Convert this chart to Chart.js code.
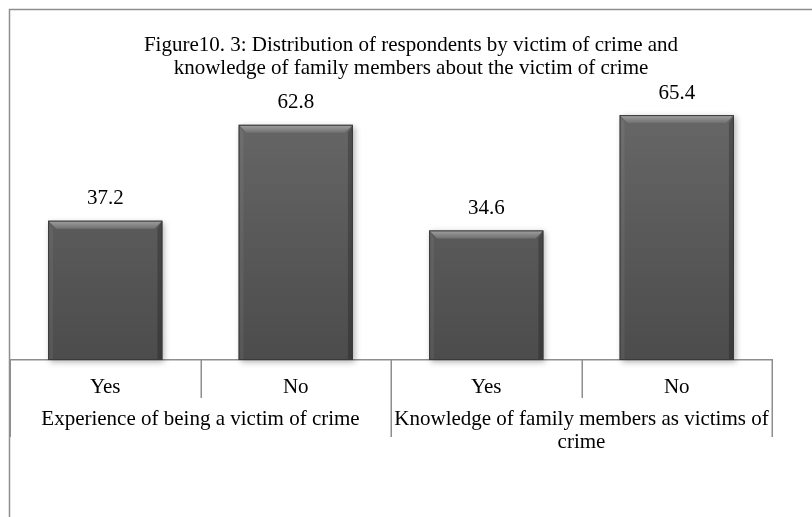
<!DOCTYPE html>
<html>
<head>
<meta charset="utf-8">
<script src="https://cdn.jsdelivr.net/npm/chart.js@4/dist/chart.umd.min.js"></script>
<style>
    html, body { margin: 0; padding: 0; background: #fff; }
    #wrap { width: 812px; height: 517px; position: relative; }
</style>
</head>
<body>
<div id="wrap"><canvas id="chart"></canvas></div>
<script>
const answers = ['Yes', 'No', 'Yes', 'No'];
const groups = [
    'Experience of being a victim of crime',
    ['Knowledge of family members as victims of', 'crime']
];
const percentages = [37.2, 62.8, 34.6, 65.4];
const titleLines = [
    'Figure10. 3: Distribution of respondents by victim of crime and',
    'knowledge of family members about the victim of crime'
];

const serif = '"Liberation Serif", "Times New Roman", serif';
const lineGray = '#8e8e8e';

const frame = {
    id: 'frame',
    beforeDraw(chart) {
        const ctx = chart.ctx;
        ctx.save();
        ctx.strokeStyle = lineGray;
        ctx.lineWidth = 1.5;
        ctx.strokeRect(9.5, 9.5, 900, 600);
        ctx.restore();
    }
};

// separators of the category table under the baseline
const tableLines = {
    id: 'tableLines',
    afterDraw(chart) {
        const x = chart.scales.x;
        const x2 = chart.scales.x2;
        const ctx = chart.ctx;
        const top = chart.chartArea.bottom;
        ctx.save();
        ctx.strokeStyle = lineGray;
        ctx.lineWidth = 1.5;
        for (let i = 0; i <= answers.length; i++) {
            const px = Math.round(x.getPixelForValue(i - 0.5)) + 0.25;
            const end = i % 2 === 0 ? x2.top + 39 : x.bottom;
            ctx.beginPath();
            ctx.moveTo(px, top);
            ctx.lineTo(px, end);
            ctx.stroke();
        }
        ctx.restore();
    }
};

const barShadow = {
    id: 'barShadow',
    beforeDatasetsDraw(chart) {
        const ctx = chart.ctx;
        ctx.save();
        ctx.shadowColor = 'rgba(0,0,0,0.3)';
        ctx.shadowBlur = 6;
        ctx.shadowOffsetX = 2;
        ctx.shadowOffsetY = 2;
    },
    afterDatasetsDraw(chart) {
        chart.ctx.restore();
    }
};

const bevelAndLabels = {
    id: 'bevelAndLabels',
    afterDatasetsDraw(chart) {
        const ctx = chart.ctx;
        const meta = chart.getDatasetMeta(0);
        ctx.save();
        meta.data.forEach((bar, i) => {
            const p = bar.getProps(['x', 'y', 'base', 'width'], true);
            const l = p.x - p.width / 2, r = p.x + p.width / 2;
            const t = p.y, b = p.base;
            const bv = 8;

            ctx.fillStyle = 'rgba(255,255,255,0.06)';
            ctx.beginPath();
            ctx.moveTo(l, t); ctx.lineTo(l + 5, t + bv);
            ctx.lineTo(l + 5, b); ctx.lineTo(l, b);
            ctx.closePath();
            ctx.fill();

            ctx.fillStyle = 'rgba(0,0,0,0.22)';
            ctx.beginPath();
            ctx.moveTo(r, t); ctx.lineTo(r - 5, t + bv);
            ctx.lineTo(r - 5, b); ctx.lineTo(r, b);
            ctx.closePath();
            ctx.fill();

            const g = ctx.createLinearGradient(0, t, 0, t + bv);
            g.addColorStop(0, '#a2a2a2');
            g.addColorStop(1, '#707070');
            ctx.fillStyle = g;
            ctx.beginPath();
            ctx.moveTo(l, t); ctx.lineTo(r, t);
            ctx.lineTo(r - bv, t + bv); ctx.lineTo(l + bv, t + bv);
            ctx.closePath();
            ctx.fill();

            ctx.strokeStyle = '#3a3a3a';
            ctx.lineWidth = 1;
            ctx.strokeRect(l + 0.5, t + 0.5, p.width - 1, b - t - 1);

            ctx.fillStyle = '#000';
            ctx.font = '21px ' + serif;
            ctx.textAlign = 'center';
            ctx.textBaseline = 'middle';
            ctx.fillText(String(percentages[i]), p.x, t - 22);
        });
        ctx.restore();
    }
};

new Chart(document.getElementById('chart'), {
    type: 'bar',
    data: {
        labels: answers,
        datasets: [{
            data: percentages,
            backgroundColor: (c) => {
                const area = c.chart.chartArea;
                if (!area) return '#585858';
                const g = c.chart.ctx.createLinearGradient(0, area.top, 0, area.bottom);
                g.addColorStop(0, '#686868');
                g.addColorStop(1, '#4c4c4c');
                return g;
            },
            borderWidth: 0,
            barPercentage: 0.6,
            categoryPercentage: 1,
            clip: 12
        }]
    },
    options: {
        responsive: true,
        maintainAspectRatio: false,
        animation: false,
        layout: { padding: { top: 0, right: 0, bottom: 64, left: 10 } },
        plugins: {
            legend: { display: false },
            tooltip: { enabled: false },
            title: {
                display: true,
                text: titleLines,
                color: '#000',
                font: { family: serif, size: 21, weight: 'normal', lineHeight: 1.1 },
                padding: { top: 33.45, bottom: 18.2 }
            }
        },
        scales: {
            y: {
                display: false,
                min: 0,
                max: 70
            },
            yRight: {
                position: 'right',
                grid: { display: false },
                border: { display: false },
                ticks: { display: false },
                afterFit: (s) => { s.width = 40; }
            },
            x: {
                position: 'bottom',
                offset: true,
                grid: { display: false, drawTicks: false },
                border: { display: true, color: lineGray, width: 1.5 },
                ticks: {
                    color: '#000',
                    font: { family: serif, size: 21, lineHeight: 1.15 },
                    padding: 15,
                    maxRotation: 0,
                    minRotation: 0,
                    autoSkip: false
                },
                afterFit: (s) => { s.height = 38; }
            },
            x2: {
                type: 'category',
                position: 'bottom',
                labels: groups,
                offset: true,
                grid: { display: false, drawTicks: false },
                border: { display: false },
                ticks: {
                    color: '#000',
                    font: { family: serif, size: 21, lineHeight: 1.1 },
                    padding: 9.5,
                    maxRotation: 0,
                    minRotation: 0,
                    autoSkip: false
                },
                afterFit: (s) => { s.height = 55; }
            }
        }
    },
    plugins: [frame, tableLines, barShadow, bevelAndLabels]
});
</script>
</body>
</html>
